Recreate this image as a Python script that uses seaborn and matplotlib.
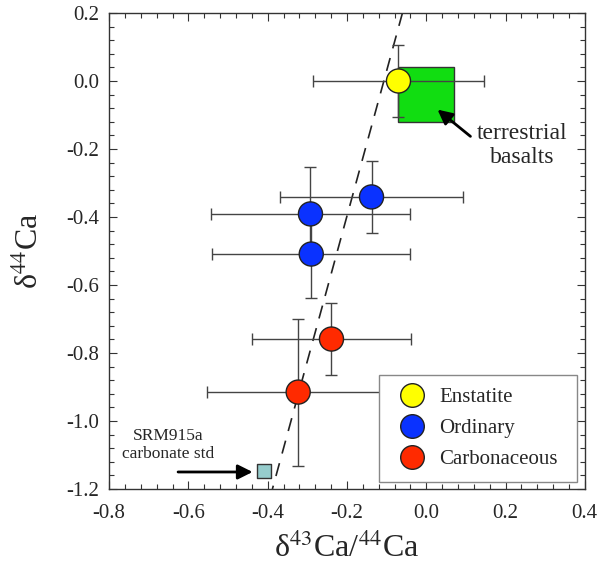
import pandas as pd
import matplotlib.pyplot as plt
import seaborn as sns
from matplotlib.lines import Line2D
from matplotlib.patches import Rectangle
from matplotlib.ticker import MultipleLocator, AutoMinorLocator

# meteorite data
groups = ['Enstatite', 'Ordinary', 'Ordinary', 'Ordinary', 'Carbonaceous', 'Carbonaceous']
d43 = [-0.07, -0.138, -0.292, -0.29, -0.239, -0.323]
d44 = [0.0, -0.341, -0.391, -0.509, -0.759, -0.915]
err43 = [0.215, 0.23, 0.25, 0.25, 0.20, 0.23]
err44 = [0.106, 0.107, 0.138, 0.13, 0.107, 0.216]

# terrestrial basalts field
basalt_x = [-0.07, 0.07]
basalt_y = [-0.12, 0.04]

# SRM915a standard
srm_x = [-0.409]
srm_y = [-1.147]

# reference line end points
line_x = [-0.06, -0.388]
line_y = [0.2, -1.2]

colors = {'Enstatite': '#FFFF00', 'Ordinary': '#0A32FF', 'Carbonaceous': '#FF2A00'}

df = pd.DataFrame({'group': groups, 'd43': d43, 'd44': d44, 'e43': err43, 'e44': err44})

sns.set_style('ticks')
plt.rcParams['font.family'] = ['Liberation Serif', 'DejaVu Serif']
plt.rcParams['mathtext.fontset'] = 'stix'

fig = plt.figure(figsize=(6.06, 5.75), dpi=100)
ax = fig.add_axes([0.180, 0.1496, 0.785, 0.8278])

ax.add_patch(Rectangle((basalt_x[0], basalt_y[0]), basalt_x[1] - basalt_x[0],
                       basalt_y[1] - basalt_y[0], facecolor='#11DD11',
                       edgecolor='#333333', lw=1, zorder=1))

ax.plot(line_x, line_y, color='#222222', lw=1.2, dashes=(8, 6), zorder=1.5)

ax.errorbar(df['d43'], df['d44'], xerr=df['e43'], yerr=df['e44'], fmt='none',
            ecolor='#444444', elinewidth=1, capsize=4, capthick=1, zorder=2)

sns.scatterplot(data=df, x='d43', y='d44', hue='group', palette=colors, s=300,
                edgecolor='#222222', linewidth=1, legend=False, zorder=3, ax=ax)
sns.scatterplot(x=srm_x, y=srm_y, marker='s', s=110, color='#96CDCD',
                edgecolor='#333333', linewidth=1, zorder=3, ax=ax)

ax.annotate('', xy=(0.023, -0.079), xytext=(0.117, -0.168),
            arrowprops=dict(arrowstyle='-|>', color='black', lw=2, mutation_scale=22))
ax.text(0.243, -0.19, 'terrestrial\nbasalts', ha='center', va='center',
        fontsize=17, linespacing=1.15)

ax.annotate('', xy=(-0.431, -1.15), xytext=(-0.633, -1.15),
            arrowprops=dict(arrowstyle='-|>', color='black', lw=2, mutation_scale=22))
ax.text(-0.651, -1.071, 'SRM915a\ncarbonate std', ha='center', va='center',
        fontsize=12.5, linespacing=1.15)

ax.set_xlim(-0.8, 0.4)
ax.set_ylim(-1.2, 0.2)
ax.xaxis.set_major_locator(MultipleLocator(0.2))
ax.yaxis.set_major_locator(MultipleLocator(0.2))
ax.xaxis.set_minor_locator(AutoMinorLocator(5))
ax.yaxis.set_minor_locator(AutoMinorLocator(5))
ax.xaxis.set_major_formatter(plt.FuncFormatter(lambda v, p: f'{v:.1f}'))
ax.yaxis.set_major_formatter(plt.FuncFormatter(lambda v, p: f'{v:.1f}'))
ax.tick_params(which='both', direction='in', top=True, right=True,
               color='#333333', width=0.8, labelsize=15)
ax.tick_params(which='major', length=6)
ax.tick_params(axis='x', which='major', pad=11)
ax.tick_params(axis='y', which='major', pad=7)
ax.tick_params(which='minor', length=3.5)
for s in ax.spines.values():
    s.set_color('#333333')
    s.set_linewidth(1)

ax.set_xlabel('δ$^{43}$Ca/$^{44}$Ca', fontsize=23)
ax.set_ylabel('δ$^{44}$Ca', fontsize=23)
ax.xaxis.label.set_va('center')
ax.yaxis.label.set_va('center')
ax.xaxis.set_label_coords(0.5, -0.125)
ax.yaxis.set_label_coords(-0.166, 0.5)

handles = [Line2D([], [], marker='o', ls='none', markersize=17, markerfacecolor=colors[g],
                  markeredgecolor='#222222', markeredgewidth=1) for g in colors]
leg = ax.legend(handles, list(colors), loc='lower left',
                bbox_to_anchor=(0.567, 0.0147, 0.416, 0.229), mode='expand',
                borderaxespad=0, fontsize=15, fancybox=False, framealpha=1,
                edgecolor='#888888', borderpad=0.6, handlelength=2.0,
                handletextpad=0.3, labelspacing=0.55)
leg.get_frame().set_linewidth(1)
leg.set_zorder(5)

plt.savefig('out.png', dpi=100)
